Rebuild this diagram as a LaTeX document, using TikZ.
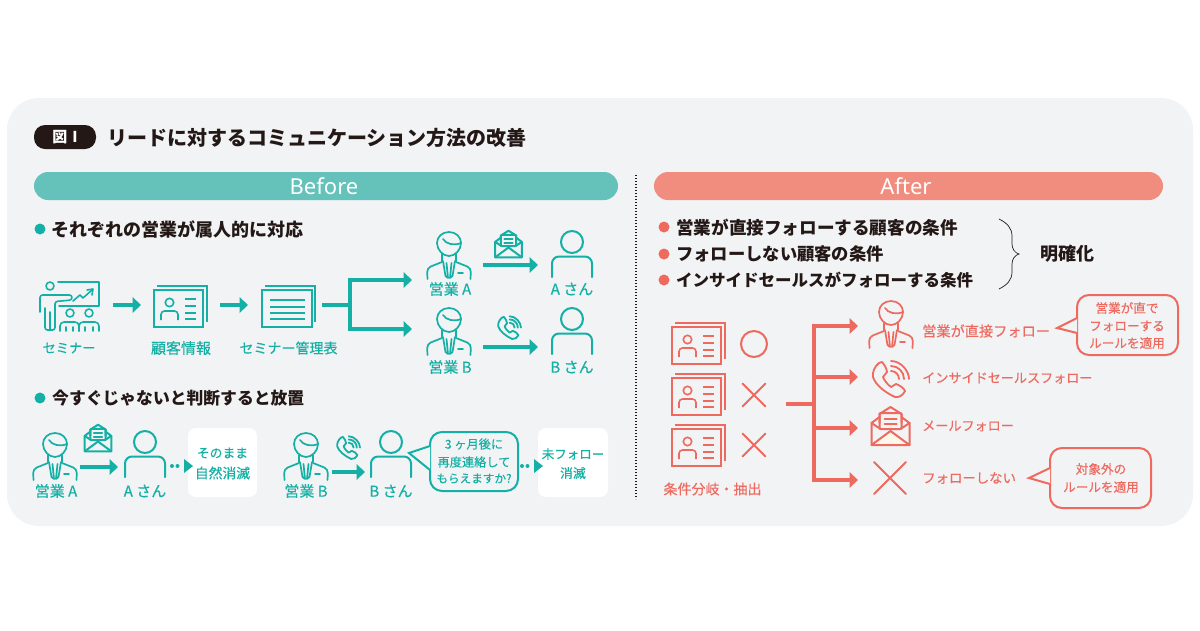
\documentclass[tikz,border=0pt]{standalone}
\usepackage{fontspec}
\setmainfont{Noto Sans CJK JP}
\newfontfamily\medfont[FakeBold=0.35]{Noto Sans CJK JP}
\newfontfamily\latinfont{Noto Sans}
\usetikzlibrary{arrows.meta}
\definecolor{teal1}{HTML}{14B0A5}
\definecolor{tealpill}{HTML}{64C2BA}
\definecolor{red1}{HTML}{EE6A5F}
\definecolor{redpill}{HTML}{F18D7E}
\definecolor{panel}{HTML}{F1F3F5}
\definecolor{ink}{HTML}{231815}
\definecolor{cream}{HTML}{FFF8EA}
\newcommand{\fs}[1]{\medfont\fontsize{#1}{#1}\selectfont}
\newcommand{\fb}[1]{\bfseries\fontsize{#1}{#1}\selectfont}
\tikzset{
  x=1pt,y=-1pt,
  lbl/.style={inner sep=0pt,align=center,font=\fs{14}},
  tl/.style={lbl,text=teal1},
  rl/.style={lbl,text=red1,anchor=west},
  head/.style={inner sep=0pt,anchor=west,text=ink,font=\fb{17.4}},
  bigarrow/.style={line width=4pt,-{Triangle[length=8.5pt,width=15.5pt]}},
  whitebox/.style={fill=white,rounded corners=8pt,draw=none},
  bub/.style={line width=2pt,rounded corners=12pt,fill=panel,draw,inner sep=0pt},
  icon/.style={line width=1.7pt,line cap=round,line join=round,fill=none},
}
% bubble tail: left edge of bubble from (x,y1) to (x,y2), tip (tx,ty)
\newcommand{\bubtail}[6]{\fill[panel] (#2,#3) -- (#5,#6) -- (#2,#4) -- cycle;
 \draw[#1,line width=2pt,line join=miter] (#2,#3) -- (#5,#6) -- (#2,#4);}
\newcommand{\salesman}[3]{\begin{scope}[shift={(#1,#2)},icon,draw=#3]
 \draw (0,0) .. controls (7,0) and (12,5) .. (12,11) .. controls (12,18) and (6,24) .. (0,24) .. controls (-6,24) and (-12,18) .. (-12,11) .. controls (-12,5) and (-7,0) .. (0,0);
 \draw (-6,7) .. controls (-3,12) and (5,14) .. (12,11);
 \draw (-7,22) -- (-7,29) (7,22) -- (7,29);
 \draw[rounded corners=4pt] (-21.5,47) -- (-22,36) -- (-7,30);
 \draw[rounded corners=4pt] (21.5,47) -- (22,36) -- (7,30);
 \draw (-6,29) -- (-3.5,44) -- (-1,46) -- (-2.5,31);
 \draw (6,29) -- (3.5,44) -- (1,46) -- (2.5,31);
 \draw (9,41) -- (14,41);
\end{scope}}
\newcommand{\personicon}[3]{\begin{scope}[shift={(#1,#2)},line width=2pt,draw=#3]
 \draw (0,0) circle (11);
 \draw[rounded corners=7pt,line cap=round] (-20,35) -- (-20,14.5) -- (20,14.5) -- (20,35);
\end{scope}}
\newcommand{\cardicon}[3]{\begin{scope}[shift={(#1,#2)},draw=#3]
 \draw[line width=2.2pt] (0,0) rectangle (49,37);
 \draw[line width=1.6pt] (3,-4) -- (53,-4) -- (53,32);
 \draw[line width=1.6pt] (15.5,12.5) circle (4.2);
 \draw[line width=1.6pt,rounded corners=3.5pt] (7,30) -- (7,21) -- (24,21) -- (24,30);
 \draw[line width=1.7pt] (31,9) -- (42,9) (31,16) -- (42,16) (31,23) -- (42,23) (31,29) -- (42,29);
\end{scope}}
\newcommand{\docicon}[3]{\begin{scope}[shift={(#1,#2)},draw=#3]
 \draw[line width=2.2pt] (0,0) rectangle (50,37);
 \draw[line width=1.6pt] (3,-4) -- (53,-4) -- (53,32);
 \draw[line width=1.7pt] (8,10) -- (43,10) (8,17) -- (43,17) (8,23) -- (43,23) (8,29) -- (43,29);
\end{scope}}
\newcommand{\mailicon}[5]{\begin{scope}[shift={(#1,#2)},scale=#3,draw=#4,line width=2pt,line join=round,line cap=round]
 \fill[#5] (-18,18) -- (0,5) -- (18,18) -- cycle;
 \draw[fill=panel] (-11,-3) -- (-11,-12) -- (0,-19) -- (11,-12) -- (11,-3);
 \draw[rounded corners=1pt] (-11,-13) -- (11,-13) -- (11,3) -- (-11,3) -- cycle;
 \draw (-6,-7) -- (6,-7) (-6,-2) -- (6,-2);
 \draw (-11,-9) -- (-19,-3) -- (-19,19) -- (19,19) -- (19,-3) -- (11,-9);
 \draw (-19,-3) -- (-10,3) (19,-3) -- (10,3);
 \draw (-19,19) -- (0,5) -- (19,19);
\end{scope}}
\newcommand{\phoneicon}[4]{\begin{scope}[shift={(#1,#2)},scale=#3,draw=#4,line width=1.8pt,line join=round,line cap=round]
 \draw (-11,-15) .. controls (-15,-12) and (-18,-6) .. (-17,-1) .. controls (-15,6) and (-6,14) .. (5,19) .. controls (9,20) and (13,17) .. (15,13) .. controls (14,10) and (9,7) .. (6,6) .. controls (4,7) and (3,8) .. (1,9) .. controls (-2,7) and (-6,2) .. (-7,-1) .. controls (-6,-3) and (-4,-4) .. (-3,-6) .. controls (-3,-9) and (-6,-14) .. (-8,-16) .. controls (-9,-16) and (-10,-16) .. (-11,-15);
 \draw (1,-7) .. controls (5.4,-7) and (9,-3.4) .. (9,1);
 \draw (1,-12) .. controls (8.2,-12) and (14,-6.2) .. (14,1);
 \draw (1,-17) .. controls (10.9,-17) and (19,-7.1) .. (19,1);
\end{scope}}
\newcommand{\crossicon}[4]{\draw[draw=#4,line width=2pt,line cap=round] (#1-#3,#2-#3) -- (#1+#3,#2+#3) (#1-#3,#2+#3) -- (#1+#3,#2-#3);}
\newcommand{\seminaricon}{\begin{scope}[icon,draw=teal1,line width=1.6pt]
 \draw (58,282) -- (99,282) -- (99,306) -- (59,306);
 \draw (50,286) circle (4);
 \draw[rounded corners=2.5pt] (40,312) -- (40,295) -- (72,295) -- (72,300) -- (55,301.5) -- (55,330) -- (45,330) -- (45,308);
 \draw (50,312) -- (50,330);
 \draw (73,301) -- (80,295) -- (83,298) -- (92,290);
 \draw (87,290) -- (93,289) -- (92,295);
 \draw (70,313) circle (4) (89,313) circle (4);
 \draw[rounded corners=4pt] (60,331) -- (60,322) -- (79,322) -- (79,331);
 \draw[rounded corners=4pt] (79,331) -- (79,322) -- (99,322) -- (99,331);
 \draw (66,327) -- (66,331) (73,327) -- (73,331) (85,327) -- (85,331) (93,327) -- (93,331);
\end{scope}}
\begin{document}
\begin{tikzpicture}
\useasboundingbox (0,0) rectangle (1200,630);
\fill[white] (0,0) rectangle (1200,630);
\fill[panel,rounded corners=32pt] (7,98) rectangle (1193,526);

% title
\node[fill=ink,rounded corners=11pt,minimum width=62pt,minimum height=24pt,inner sep=0pt,text=white,font=\fb{15}] (fig) at (65,137) {図\,\,I};
\node[head,font=\fb{20}] (title) at (107,138) {リードに対するコミュニケーション方法の改善};

% pills
\node[fill=tealpill,rounded corners=14pt,minimum width=584pt,minimum height=28pt,inner sep=0pt] (before) at (326,186) {};
\node[fill=redpill,rounded corners=14pt,minimum width=509pt,minimum height=28pt,inner sep=0pt] (after) at (908.5,186) {};
\node[inner sep=0pt,text=white,font=\latinfont\fontsize{22}{22}\selectfont] (beforet) at (324,186.5) {Before};
\node[inner sep=0pt,text=white,font=\latinfont\fontsize{22}{22}\selectfont] (aftert) at (906,186.5) {After};

% divider
\coordinate (divtop) at (636,175);
\coordinate (divbot) at (636,499);
\draw[ink,line width=1.2pt,dash pattern=on 1.2pt off 1.8pt] (divtop) -- (divbot);

% BEFORE upper
\fill[teal1] (40,229) circle (5.5);
\node[head,font=\fb{18}] (h1) at (51,229) {それぞれの営業が属人的に対応};
\seminaricon
\node[tl,font=\fs{13.2}] (ls) at (69,348) {セミナー};
\coordinate (a1s) at (113,305); \coordinate (a1e) at (141,305);
\draw[bigarrow,teal1] (a1s) -- (a1e);
\cardicon{154}{290}{teal1}
\node[tl,font=\fs{15}] (lc) at (181,348) {顧客情報};
\coordinate (a2s) at (220,305); \coordinate (a2e) at (248,305);
\draw[bigarrow,teal1] (a2s) -- (a2e);
\docicon{262}{290}{teal1}
\node[tl] (ld) at (288.5,348) {セミナー管理表};
\coordinate (b0) at (322,305); \coordinate (b1) at (350,305);
\coordinate (b2) at (350,280); \coordinate (b3) at (350,329);
\coordinate (b2e) at (412,280); \coordinate (b3e) at (412,329);
\draw[teal1,line width=4pt] (b0) -- (b1);
\draw[bigarrow,teal1] (b1) -- (b2) -- (b2e);
\draw[bigarrow,teal1] (b1) -- (b3) -- (b3e);
\salesman{449}{232}{teal1}
\salesman{449}{308}{teal1}
\node[tl,font=\fs{15}] (sa) at (450,289) {営業 A};
\node[tl,font=\fs{15}] (sb) at (450,367) {営業 B};
\mailicon{508.5}{244}{0.7}{teal1}{panel}
\phoneicon{509}{327}{0.63}{teal1}
\coordinate (c1s) at (483,265); \coordinate (c1e) at (538,265);
\coordinate (c2s) at (483,347); \coordinate (c2e) at (538,347);
\draw[bigarrow,teal1] (c1s) -- (c1e);
\draw[bigarrow,teal1] (c2s) -- (c2e);
\personicon{572}{242}{teal1}
\personicon{572}{319}{teal1}
\node[tl,font=\fs{15}] (pa) at (572,289) {A さん};
\node[tl,font=\fs{15}] (pb) at (572,367) {B さん};

% BEFORE lower
\fill[teal1] (40,398) circle (5.5);
\node[head,font=\fb{16.8}] (h2) at (52,398) {今すぐじゃないと判断すると放置};
\salesman{55}{433}{teal1}
\node[tl,font=\fs{15}] (sa2) at (56,491) {営業 A};
\mailicon{98}{438}{0.7}{teal1}{panel}
\coordinate (d1s) at (80,467); \coordinate (d1e) at (118,467);
\draw[bigarrow,teal1] (d1s) -- (d1e);
\personicon{145}{442}{teal1}
\node[tl,font=\fs{15}] (pa2) at (145,491) {A さん};
\node[whitebox,minimum width=69pt,minimum height=69pt,inner sep=0pt] (box1) at (222.5,462.5) {};
\coordinate (e1s) at (172,466); \coordinate (e1e) at (193,466);
\fill[teal1] (e1s) circle (2) (177.5,466) circle (2);
\fill[teal1] (184,459) -- (193,466) -- (184,473) -- cycle;
\node[tl,font=\fs{12.8}] (t1) at (222.5,453) {そのまま};
\node[tl,font=\fs{13.8}] (t2) at (222.5,473) {自然消滅};

\salesman{306}{433}{teal1}
\node[tl,font=\fs{15}] (sb2) at (306,491) {営業 B};
\phoneicon{348}{447}{0.63}{teal1}
\coordinate (d2s) at (332,472); \coordinate (d2e) at (365,472);
\draw[bigarrow,teal1] (d2s) -- (d2e);
\personicon{391}{442}{teal1}
\node[tl,font=\fs{15}] (pb2) at (391,491) {B さん};
\node[bub,draw=teal1,minimum width=88pt,minimum height=59pt] (bq) at (474,461.5) {};
\bubtail{teal1}{430}{446}{470}{409}{453}
\node[tl,font=\fs{12.2}] (q1) at (474,444) {3 ヶ月後に};
\node[tl,font=\fs{12.2}] (q2) at (474,462) {再度連絡して};
\node[tl,font=\fs{11.6}] (q3) at (474,478.5) {もらえますか?};
\node[whitebox,minimum width=70pt,minimum height=69pt,inner sep=0pt] (box2) at (573,462.5) {};
\fill[teal1] (522,466) circle (2) (527.5,466) circle (2);
\fill[teal1] (534,459) -- (543,466) -- (534,473) -- cycle;
\node[tl,font=\fs{12.5}] (t3) at (573,454) {未フォロー};
\node[tl,font=\fs{12.8}] (t4) at (573,473) {消滅};

% AFTER top
\fill[red1] (664,227) circle (5.5) (664,254) circle (5.5) (664,280) circle (5.5);
\node[head,font=\fb{17.6}] (r1) at (676,228) {営業が直接フォローする顧客の条件};
\node[head,font=\fb{17.3}] (r2) at (676,254) {フォローしない顧客の条件};
\node[head,font=\fb{16.5}] (r3) at (676,280) {インサイドセールスがフォローする条件};
\coordinate (brT) at (999,219); \coordinate (brB) at (999,289); \coordinate (brM) at (1019,254);
\draw[ink,line width=.7pt] (brT) .. controls (1007,223) and (1012,228) .. (1012,236) -- (1012,244) .. controls (1012,249) and (1015,253) .. (brM) .. controls (1015,255) and (1012,259) .. (1012,264) -- (1012,272) .. controls (1012,280) and (1007,285) .. (brB);
\node[head,anchor=west,font=\fb{18}] (mk) at (1040,254) {明確化};

% AFTER left
\cardicon{672}{327}{red1}
\cardicon{672}{378}{red1}
\cardicon{672}{429}{red1}
\draw[red1,line width=2pt] (754,344) circle (13);
\crossicon{754}{395}{11.5}{red1}
\crossicon{754}{445}{11.5}{red1}
\node[lbl,text=red1] (cond) at (712.5,489) {条件分岐・抽出};
\coordinate (f0) at (786,404); \coordinate (f1) at (814,404);
\coordinate (g1) at (814,326); \coordinate (g2) at (814,377); \coordinate (g3) at (814,428); \coordinate (g4) at (814,480);
\coordinate (h1e) at (858,326); \coordinate (h2e) at (858,377); \coordinate (h3e) at (858,428); \coordinate (h4e) at (858,480);
\draw[red1,line width=4pt] (f0) -- (f1);
\draw[red1,line width=4pt,line cap=rect] (g1) -- (g4);
\draw[bigarrow,red1] (g1) -- (h1e);
\draw[bigarrow,red1] (g2) -- (h2e);
\draw[bigarrow,red1] (g3) -- (h3e);
\draw[bigarrow,red1] (g4) -- (h4e);

% AFTER right
\salesman{891}{301}{red1}
\phoneicon{890}{378}{1}{red1}
\mailicon{890.5}{426}{1}{red1}{cream}
\crossicon{890}{478}{16}{red1}
\node[rl,font=\fs{14.2}] (o1) at (922,331) {営業が直接フォロー};
\node[rl,font=\fs{13.1}] (o2) at (922,378) {インサイドセールスフォロー};
\node[rl,font=\fs{13.1}] (o3) at (922,426) {メールフォロー};
\node[rl,font=\fs{13.4}] (o4) at (922,478) {フォローしない};
\node[bub,draw=red1,minimum width=101pt,minimum height=60pt] (bu) at (1127.5,325) {};
\bubtail{red1}{1077}{318}{333}{1057}{328}
\node[lbl,text=red1,font=\fs{12.6}] (u1) at (1127,308) {営業が直で};
\node[lbl,text=red1,font=\fs{12.6}] (u2) at (1127,326) {フォローする};
\node[lbl,text=red1,font=\fs{12.6}] (u3) at (1127,343) {ルールを適用};
\node[bub,draw=red1,minimum width=101pt,minimum height=60pt] (bv) at (1100.5,478) {};
\bubtail{red1}{1050}{468}{484}{1029}{478}
\node[lbl,text=red1,font=\fs{12.6}] (v1) at (1101,469) {対象外の};
\node[lbl,text=red1,font=\fs{12.6}] (v2) at (1101,487) {ルールを適用};
\end{tikzpicture}
\end{document}
